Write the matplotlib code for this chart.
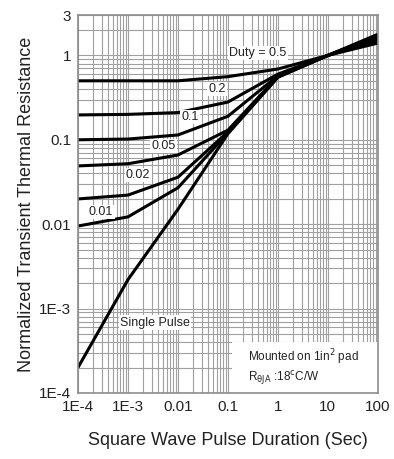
import matplotlib.pyplot as plt
from matplotlib.patches import Rectangle
from matplotlib.ticker import FixedLocator, LogLocator, NullFormatter

plt.rcParams['font.family'] = ['Liberation Sans', 'DejaVu Sans']

# ---------------------------------------------------------
# Data
# ---------------------------------------------------------
duration = [1e-4, 1e-3, 0.01, 0.1, 1, 10, 100]

z_d050 = [0.50, 0.50, 0.50, 0.56, 0.69, 1.0, 1.40]
z_d020 = [0.197, 0.20, 0.21, 0.28, 0.60, 1.0, 1.50]
z_d010 = [0.100, 0.102, 0.114, 0.19, 0.575, 1.0, 1.58]
z_d005 = [0.049, 0.052, 0.066, 0.13, 0.565, 1.0, 1.64]
z_d002 = [0.0199, 0.0221, 0.036, 0.124, 0.56, 1.0, 1.68]
z_d001 = [0.0095, 0.0122, 0.027, 0.121, 0.555, 1.0, 1.72]
z_single = [2.0e-4, 2.2e-3, 0.015, 0.118, 0.55, 1.0, 1.78]

curves = [z_d050, z_d020, z_d010, z_d005, z_d002, z_d001, z_single]

# curve labels and where they sit
labels = ['Duty = 0.5', '0.2', '0.1', '0.05', '0.02', '0.01', 'Single Pulse']
label_x = [0.40, 0.06, 0.0174, 0.0052, 0.0016, 2.9e-4, 0.0035]
label_y = [1.07, 0.40, 0.186, 0.084, 0.038, 0.014, 6.8e-4]

x_ticks = [1e-4, 1e-3, 0.01, 0.1, 1, 10, 100]
x_ticklabels = ['1E-4', '1E-3', '0.01', '0.1', '1', '10', '100']
y_ticks = [1e-4, 1e-3, 0.01, 0.1, 1, 3]
y_ticklabels = ['1E-4', '1E-3', '0.01', '0.1', '1', '3']

# ---------------------------------------------------------
# Plot
# ---------------------------------------------------------
fig = plt.figure(figsize=(3.94, 4.59), dpi=100)
ax = fig.add_axes([0.198, 0.144, 0.761, 0.823])

for z in curves:
    ax.plot(duration, z, color='black', lw=2.2, solid_capstyle='butt', zorder=3)

ax.set_xscale('log')
ax.set_yscale('log')
ax.set_xlim(1e-4, 100)
ax.set_ylim(1e-4, 3)

ax.xaxis.set_major_locator(FixedLocator(x_ticks))
ax.set_xticklabels(x_ticklabels)
ax.yaxis.set_major_locator(FixedLocator(y_ticks))
ax.set_yticklabels(y_ticklabels)
ax.xaxis.set_minor_locator(LogLocator(base=10, subs=range(2, 10), numticks=20))
ax.yaxis.set_minor_locator(LogLocator(base=10, subs=range(2, 10), numticks=20))
ax.xaxis.set_minor_formatter(NullFormatter())
ax.yaxis.set_minor_formatter(NullFormatter())

ax.tick_params(which='both', length=0, labelsize=11, colors='#222222', pad=5)
ax.grid(True, which='both', color='#a0a0a0', lw=0.8, zorder=1)
ax.set_axisbelow(True)
for s in ax.spines.values():
    s.set_color('#8c8c8c')
    s.set_linewidth(1.2)
    s.set_zorder(6)

for txt, lx, ly in zip(labels, label_x, label_y):
    ax.text(lx, ly, txt, fontsize=9, color='#222222', ha='center', va='center',
            zorder=5, bbox=dict(boxstyle='square,pad=0.1', fc='white', ec='none'))

# note box in the lower right corner
ax.add_patch(Rectangle((0.513, 0.0), 0.487, 0.135, transform=ax.transAxes,
                       fc='white', ec='none', zorder=4))
ax.text(0.567, 0.095, 'Mounted on 1in$^2$ pad', transform=ax.transAxes,
        fontsize=8.5, color='#222222', ha='left', va='center', zorder=5)
ax.text(0.567, 0.04, 'R$_{\\mathrm{\\theta JA}}$ :18$^{\\mathrm{c}}$C/W', transform=ax.transAxes,
        fontsize=8.5, color='#222222', ha='left', va='center', zorder=5)

ax.set_xlabel('Square Wave Pulse Duration (Sec)', fontsize=13, color='#222222', labelpad=13)
ax.set_ylabel('Normalized Transient Thermal Resistance', fontsize=13, color='#222222', labelpad=3)

fig.savefig('out.png', dpi=100)
